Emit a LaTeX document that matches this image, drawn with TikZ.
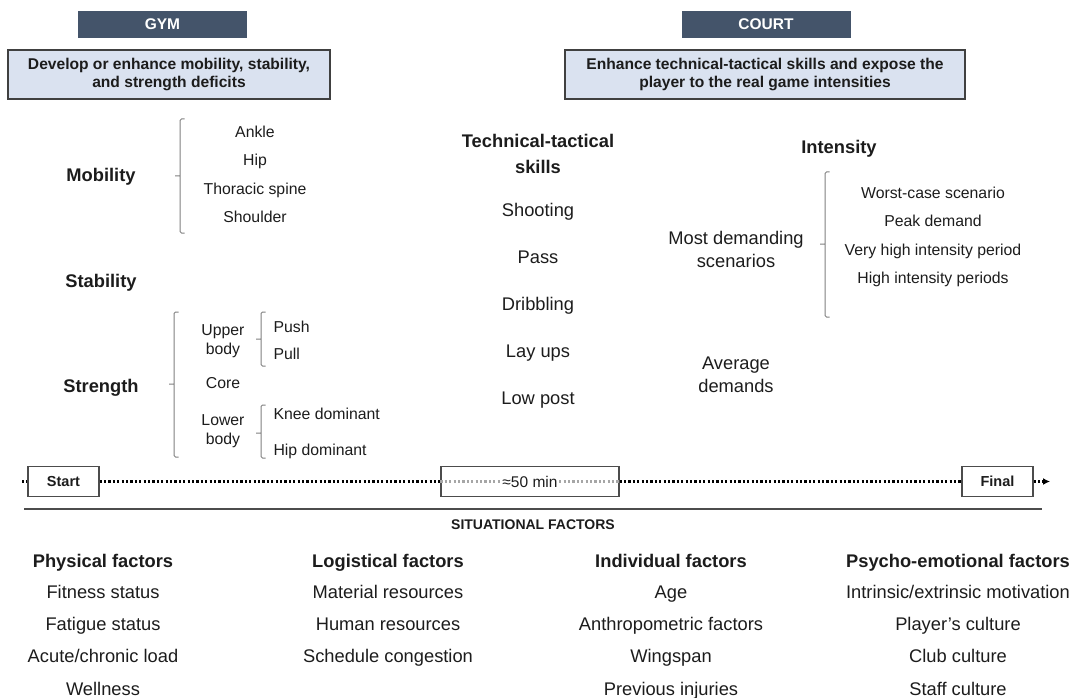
\documentclass[tikz,border=0pt]{standalone}
\usepackage{fontspec}
\setmainfont{Liberation Sans}
\usetikzlibrary{arrows.meta}
\definecolor{tabblue}{RGB}{68,84,106}
\definecolor{goalblue}{RGB}{218,226,240}
\definecolor{inkgray}{RGB}{28,28,28}

\begin{document}
\begin{tikzpicture}[
        x=1pt, y=-1pt,
        every node/.style={text=inkgray},
        tab/.style={rectangle, fill=tabblue, text=white, minimum width=169pt, minimum height=27pt, inner sep=0pt, font=\bfseries\fontsize{15.5}{18}\selectfont},
        goal/.style={rectangle, draw=black!75, line width=1.6pt, fill=goalblue, minimum height=49pt, inner sep=0pt, align=center, font=\bfseries\fontsize{15.6}{18}\selectfont},
        head/.style={align=center, font=\bfseries\fontsize{18.3}{26}\selectfont},
        item/.style={align=center, font=\fontsize{18.3}{23}\selectfont},
        small/.style={align=center, font=\fontsize{15.8}{19}\selectfont},
        oneline/.style={text height=13.2pt, text depth=0pt},
        smallline/.style={text height=11.4pt, text depth=0pt},
        brace/.style={draw=black!50, line width=1pt, rounded corners=1.5pt},
        tbox/.style={rectangle, draw=black!70, line width=1.2pt, fill=white, minimum height=30pt, inner sep=0pt, font=\bfseries\fontsize{14.5}{17}\selectfont},
        dots/.style={line width=2.4pt, dash pattern=on 2.2pt off 2.2pt}
    ]
    \useasboundingbox (0,0) rectangle (1077,698);

    % gym and court headers
    \node[tab] (gym) at (162.5,24.5) {GYM};
    \node[tab] (court) at (766,24.5) {COURT};
    \node[goal, minimum width=322pt] (gymgoal) at (169,74.5) {Develop or enhance mobility, stability,\\and strength deficits};
    \node[goal, minimum width=400pt] (courtgoal) at (765,74.5) {Enhance technical-tactical skills and expose the\\player to the real game intensities};

    % gym column
    \node[head, oneline] (mobility) at (101,175) {Mobility};
    \node[head, oneline] (stability) at (101,281) {Stability};
    \node[head, oneline] (strength) at (101,386) {Strength};
    \foreach \txt [count=\i] in {Ankle, Hip, Thoracic spine, Shoulder}
        \node[small, smallline] (mob\i) at (255,103.5+28.4*\i) {\txt};
    \node[small] (upper) at (223,341.5) {Upper\\body};
    \node[small, smallline] (core) at (223,383) {Core};
    \node[small] (lower) at (223,431.5) {Lower\\body};
    \node[small, smallline, anchor=west] (push) at (270,327) {Push};
    \node[small, smallline, anchor=west] (pull) at (270,354) {Pull};
    \node[small, smallline, anchor=west] (knee) at (270,414) {Knee dominant};
    \node[small, smallline, anchor=west] (hipdom) at (270,450) {Hip dominant};

    \foreach \bx/\btop/\bbot/\bmid in {180/119/233/176, 174/312/457/384, 261/312/366/339, 261/405/458/433, 825/172/317/244}
        \draw[brace] (\bx+4.5,\btop) -- (\bx,\btop) -- (\bx,\bbot) -- (\bx+4.5,\bbot)
            (\bx,\bmid) -- (\bx-5,\bmid);

    % court columns
    \node[head] (skills) at (538,154) {Technical-tactical\\skills};
    \foreach \txt [count=\i] in {Shooting, Pass, Dribbling, Lay ups, Low post}
        \node[item, oneline] (skill\i) at (538,163+47*\i) {\txt};
    \node[head, oneline] (intensity) at (839,147) {Intensity};
    \node[item] (mostdem) at (736,249) {Most demanding\\scenarios};
    \node[item] (avgdem) at (736,375) {Average\\demands};
    \foreach \txt [count=\i] in {Worst-case scenario, Peak demand, Very high intensity period, High intensity periods}
        \node[small, smallline] (int\i) at (933,164.3+28.4*\i) {\txt};

    % timeline
    \coordinate (tl) at (22,481.5);
    \node[tbox, minimum width=71pt] (tstart) at (63.5,481.5) {Start};
    \node[tbox, minimum width=178pt] (tmid) at (530,481.5) {};
    \node[tbox, minimum width=71pt] (tfinal) at (997.5,481.5) {Final};
    \coordinate (tend) at (1050,481.5);
    \draw[dots] (tl) -- (tstart.west);
    \draw[dots] (tstart.east) -- (tmid.west);
    \draw[dots] (tmid.east) -- (tfinal.west);
    \draw[dots, -{Latex[length=7pt, width=7pt]}] (tfinal.east) -- (tend);
    \draw[dots, draw=black!35] (tmid.west) -- (tmid.east);
    \node[fill=white, inner sep=1pt, font=\fontsize{15.5}{17}\selectfont] (tmidtext) at (tmid) {≈50 min};

    % situational factors
    \coordinate (rulel) at (24,509);
    \coordinate (ruler) at (1042,509);
    \draw[line width=2pt, draw=black!70] (rulel) -- (ruler);
    \node[font=\bfseries\fontsize{14}{16}\selectfont] (situational) at (533,525) {SITUATIONAL FACTORS};

    \node[head, oneline] (physical) at (103,561) {Physical factors};
    \node[head, oneline] (logistical) at (388,561) {Logistical factors};
    \node[head, oneline] (individual) at (671,561) {Individual factors};
    \node[head, oneline] (psycho) at (958,561) {Psycho-emotional factors};
    \foreach \txt [count=\i] in {Fitness status, Fatigue status, Acute/chronic load, Wellness}
        \node[item, oneline] (phys\i) at (103,559.3+32.3*\i) {\txt};
    \foreach \txt [count=\i] in {Material resources, Human resources, Schedule congestion}
        \node[item, oneline] (logi\i) at (388,559.3+32.3*\i) {\txt};
    \foreach \txt [count=\i] in {Age, Anthropometric factors, Wingspan, Previous injuries}
        \node[item, oneline] (indiv\i) at (671,559.3+32.3*\i) {\txt};
    \foreach \txt [count=\i] in {Intrinsic/extrinsic motivation, Player’s culture, Club culture, Staff culture}
        \node[item, oneline] (psy\i) at (958,559.3+32.3*\i) {\txt};
\end{tikzpicture}
\end{document}
